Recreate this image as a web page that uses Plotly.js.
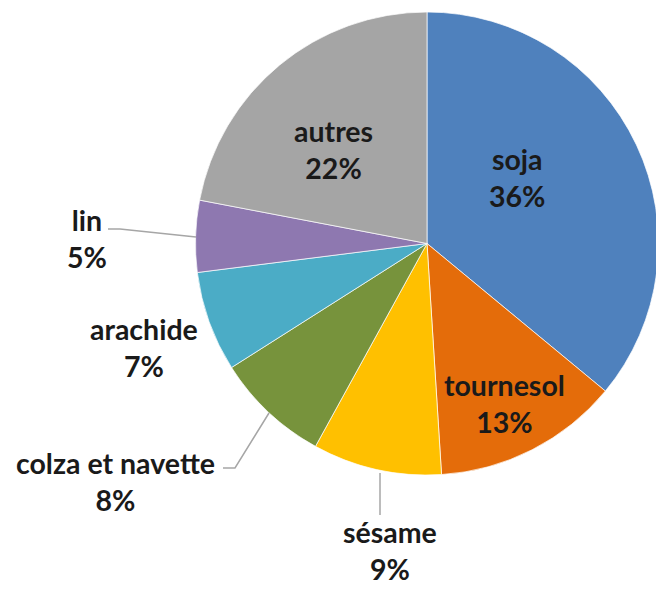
<!DOCTYPE html>
<html>
<head>
<meta charset="utf-8">
<script src="https://cdn.plot.ly/plotly-3.0.1.min.js"></script>
<style>
html,body{margin:0;padding:0;overflow:hidden;background:#fff;}
#chart{width:660px;height:591px;}
</style>
</head>
<body>
<div id="chart"></div>
<script>
// Data
const categories = ["soja", "tournesol", "sésame", "colza et navette", "arachide", "lin", "autres"];
const values = [36, 13, 9, 8, 7, 5, 22];
const colors = ["#4F81BD", "#E46C0A", "#FFC000", "#77933C", "#4BACC6", "#8E78B0", "#A5A5A5"];

// Label placements (pixel centres of the two-line labels)
const labelPos = [
  [517, 177], [504, 403], [390, 550], [115, 481], [144, 347], [87, 239], [333, 149]
];

const W = 660, H = 591;
const total = values.reduce((a, b) => a + b, 0);

const annotations = categories.map((c, i) => ({
  xref: "paper", yref: "paper",
  x: labelPos[i][0] / W, y: 1 - labelPos[i][1] / H,
  xanchor: "center", yanchor: "middle",
  text: "<b>" + c + "<br>" + Math.round(values[i] / total * 100) + "%</b>",
  showarrow: false,
  align: "center",
  font: {family: "Lato, 'Open Sans', sans-serif", size: 28.5, color: "#1a1a1a"}
}));

function px(x) { return x / W; }
function py(y) { return 1 - y / H; }
const lineStyle = {color: "#A6A6A6", width: 1.5};
const shapes = [
  {type: "path", xref: "paper", yref: "paper",
   path: `M ${px(108)} ${py(229)} L ${px(120)} ${py(229)} L ${px(196)} ${py(237)}`, line: lineStyle},
  {type: "path", xref: "paper", yref: "paper",
   path: `M ${px(223)} ${py(468)} L ${px(235)} ${py(468)} L ${px(269)} ${py(413)}`, line: lineStyle},
  {type: "line", xref: "paper", yref: "paper",
   x0: px(380), y0: py(473), x1: px(380), y1: py(515), line: lineStyle}
];

const trace = {
  type: "pie",
  labels: categories,
  values: values,
  sort: false,
  direction: "clockwise",
  rotation: 0,
  textinfo: "none",
  hoverinfo: "label+percent",
  marker: {colors: colors, line: {color: "#ffffff", width: 0.7}},
  domain: {x: [195.5 / W, 658.5 / W], y: [1 - 475 / H, 1 - 12 / H]},
  showlegend: false
};

Plotly.newPlot("chart", [trace], {
  width: W, height: H,
  margin: {l: 0, r: 0, t: 0, b: 0},
  paper_bgcolor: "#ffffff",
  showlegend: false,
  annotations: annotations,
  shapes: shapes
}, {displayModeBar: false, staticPlot: true});
</script>
</body>
</html>
